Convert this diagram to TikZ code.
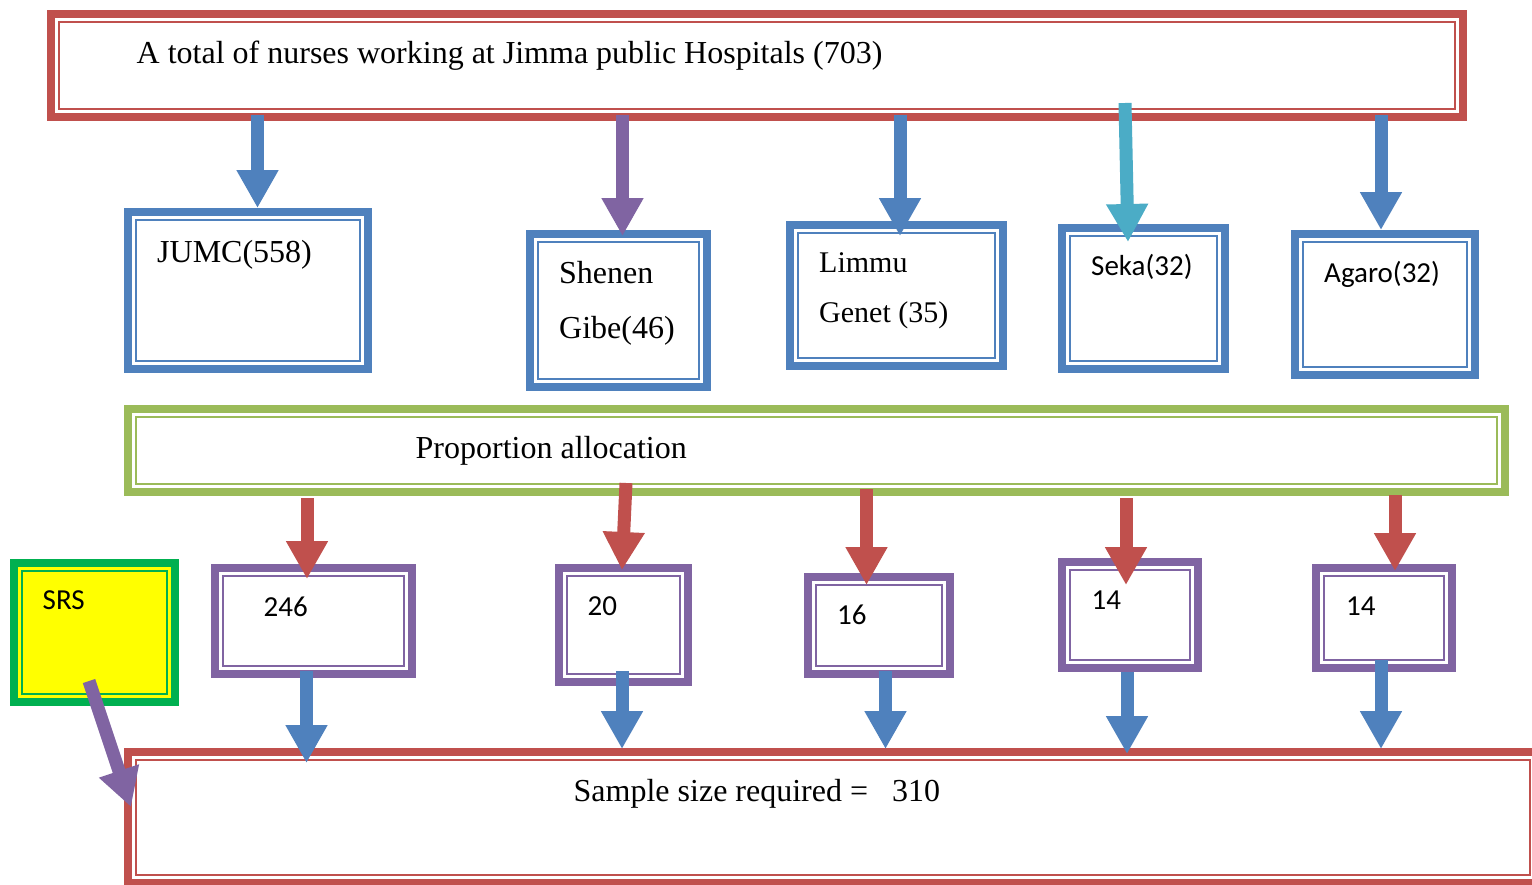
\documentclass[tikz,border=0pt]{standalone}
\usepackage{fontspec}
\setmainfont{Liberation Serif}
\newfontfamily\calfont{Carlito}
\usetikzlibrary{arrows.meta,calc}
\definecolor{cred}{HTML}{C0504D}
\definecolor{cblue}{HTML}{4F81BD}
\definecolor{cpurple}{HTML}{8064A2}
\definecolor{cgreen}{HTML}{9BBB59}
\definecolor{cteal}{HTML}{4BACC6}
\definecolor{csrs}{HTML}{00B050}
\definecolor{cyellow}{HTML}{FFFF00}
\tikzset{
  dboxs/.style={rectangle, draw=#1, line width=8pt, inner sep=0pt, outer sep=4pt},
  innerline/.style={draw=#1, line width=2pt},
  arr/.style={color=#1, line width=13pt, -{Triangle[width=39.5pt,length=38pt]}},
  serif/.style={font=\fontsize{32}{38}\selectfont, anchor=base west, inner sep=0pt},
  serifs/.style={font=\fontsize{30}{36}\selectfont, anchor=base west, inner sep=0pt},
  sans/.style={font=\calfont\fontsize{29}{35}\selectfont, anchor=base west, inner sep=0pt},
}
% name, colour, fill, x1, y1, x2, y2 (outer edges, pixels)
\newcommand{\mkbox}[7]{%
  \node[dboxs=#2, fill=#3, minimum width={#6-#4-8}, minimum height={#7-#5-8}]
    (#1) at ({(#4+#6)/2},{(#5+#7)/2}) {};
  \draw[innerline=#2] ([shift={(12pt,-12pt)}]#1.north west) rectangle ([shift={(-12pt,12pt)}]#1.south east);
}
\begin{document}
\begin{tikzpicture}[x=1pt,y=-1pt]
\useasboundingbox (0,0) rectangle (1532,884);
\fill[white] (0,0) rectangle (1532,884);
\clip (0,0) rectangle (1532,884);

% boxes
\mkbox{top}{cred}{white}{47}{10}{1467}{121}
\mkbox{jumc}{cblue}{white}{124}{208}{372}{373}
\mkbox{shenen}{cblue}{white}{526}{230}{711}{391}
\mkbox{limmu}{cblue}{white}{786}{221}{1007}{370}
\mkbox{seka}{cblue}{white}{1058}{224}{1229}{373}
\mkbox{agaro}{cblue}{white}{1291}{230}{1479}{379}
\mkbox{prop}{cgreen}{white}{124}{405}{1509}{496}
\mkbox{srs}{csrs}{cyellow}{10}{559}{179}{706}
\mkbox{b246}{cpurple}{white}{211}{564}{416}{678}
\mkbox{b20}{cpurple}{white}{555}{564}{692}{686}
\mkbox{b16}{cpurple}{white}{804}{573}{954}{678}
\mkbox{b14a}{cpurple}{white}{1058}{558}{1202}{672}
\mkbox{b14b}{cpurple}{white}{1312}{564}{1456}{672}
\mkbox{bottom}{cred}{white}{124}{748}{1542}{887}

% texts
\node[serif] (ttop) at (136.5,63) {A total of nurses working at Jimma public Hospitals (703)};
\node[serif] (tjumc) at (157,262) {JUMC(558)};
\node[serif] (tshen1) at (559,283.5) {Shenen};
\node[serif] (tshen2) at (559,338.5) {Gibe(46)};
\node[serifs] (tlim1) at (819,272) {Limmu};
\node[serifs] (tlim2) at (819,322.5) {Genet (35)};
\node[sans] (tseka) at (1091,275) {Seka(32)};
\node[sans] (tagaro) at (1324,282) {Agaro(32)};
\node[serif] (tprop) at (415.5,458.5) {Proportion allocation};
\node[sans] (tsrs) at (42.5,609) {SRS};
\node[sans] (t246) at (263.5,616) {246};
\node[sans] (t20) at (587.5,615) {20};
\node[sans] (t16) at (837,624.5) {16};
\node[sans] (t14a) at (1091.5,609) {14};
\node[sans] (t14b) at (1346,615) {14};
\node[serif] (tbot) at (573.5,801) {Sample size required = \ \ 310};

% arrows: top row
\draw[arr=cblue]   ($(257.5,0 |- top.south)+(0,-6)$) -- ($(257.5,0 |- jumc.north)+(0,0)$);
\draw[arr=cpurple] ($(622.5,0 |- top.south)+(0,-6)$) -- ($(622.5,0 |- shenen.north)+(0,6)$);
\draw[arr=cblue]   ($(900,0 |- top.south)+(0,-6)$) -- ($(900,0 |- limmu.north)+(0,15)$);
\draw[arr=cteal]   ($(1125,0 |- top.south)+(0,-18)$) -- ($(1128,0 |- seka.north)+(0,18)$);
\draw[arr=cblue]   ($(1381,0 |- top.south)+(0,-6)$) -- ($(1381,0 |- agaro.north)+(0,0)$);

% arrows: proportion allocation to samples
\draw[arr=cred] ($(307,0 |- prop.south)+(0,2)$) -- ($(307,0 |- b246.north)+(0,15)$);
\draw[arr=cred] ($(626,0 |- prop.south)+(0,-13)$) -- ($(622,0 |- b20.north)+(0,6)$);
\draw[arr=cred] ($(866.5,0 |- prop.south)+(0,-7)$) -- ($(866.5,0 |- b16.north)+(0,12)$);
\draw[arr=cred] ($(1126,0 |- prop.south)+(0,2)$) -- ($(1126,0 |- b14a.north)+(0,27)$);
\draw[arr=cred] ($(1395,0 |- prop.south)+(0,-1)$) -- ($(1395,0 |- b14b.north)+(0,7)$);

% arrows: samples to total
\draw[arr=cblue] ($(306.5,0 |- b246.south)+(0,-7)$) -- ($(306.5,0 |- bottom.north)+(0,15)$);
\draw[arr=cblue] ($(622,0 |- b20.south)+(0,-15)$) -- ($(622,0 |- bottom.north)+(0,1)$);
\draw[arr=cblue] ($(885.5,0 |- b16.south)+(0,-7)$) -- ($(885.5,0 |- bottom.north)+(0,1)$);
\draw[arr=cblue] ($(1127,0 |- b14a.south)+(0,0)$) -- ($(1127,0 |- bottom.north)+(0,6)$);
\draw[arr=cblue] ($(1381,0 |- b14b.south)+(0,-12)$) -- ($(1381,0 |- bottom.north)+(0,1)$);

% SRS arrow
\draw[arr=cpurple] ($(89,0 |- srs.south)+(0,-25)$) -- ($(131,0 |- bottom.north)+(0,59)$);
\end{tikzpicture}
\end{document}
